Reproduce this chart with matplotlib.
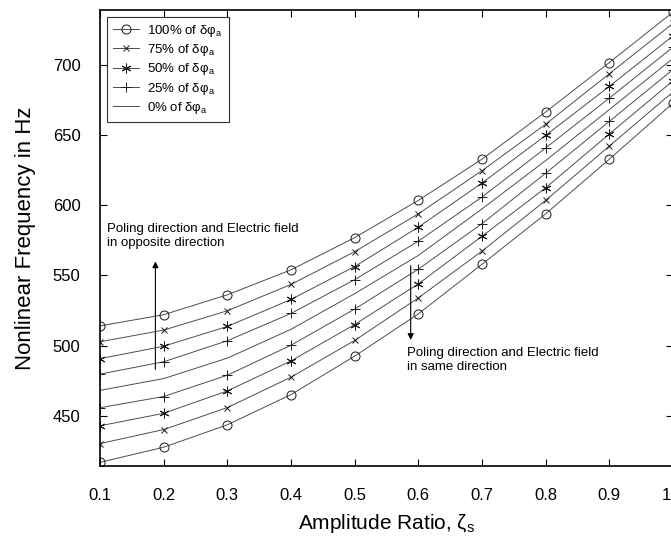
import numpy as np
import matplotlib
matplotlib.use('Agg')
import matplotlib.pyplot as plt

##################################### fonts
plt.rcParams['font.family'] = ['Liberation Sans', 'DejaVu Sans']
plt.rcParams['mathtext.fontset'] = 'custom'
plt.rcParams['mathtext.rm'] = 'Liberation Sans'
plt.rcParams['mathtext.it'] = 'Liberation Sans:italic'
plt.rcParams['mathtext.default'] = 'regular'
#####################################

##################################### data
amp_ratio = [0.1, 0.2, 0.3, 0.4, 0.5, 0.6, 0.7, 0.8, 0.9, 1.0]

# poling direction and electric field in opposite direction
opp_100 = [514.0, 522.0, 536.2, 554.0, 577.0, 603.6, 633.0, 666.7, 702.0, 738.0]
opp_75 = [502.7, 511.0, 524.8, 543.6, 567.0, 594.0, 624.8, 658.0, 694.0, 730.0]
opp_50 = [490.6, 499.5, 513.6, 532.9, 556.4, 584.5, 616.0, 650.0, 685.0, 721.0]
opp_25 = [479.6, 488.4, 503.4, 522.9, 547.0, 574.5, 606.0, 641.0, 676.6, 713.0]
# no electric field
zero_field = [468.0, 476.4, 491.0, 511.6, 537.0, 564.3, 597.5, 632.0, 668.4, 705.0]
# poling direction and electric field in same direction
same_25 = [455.6, 463.6, 478.8, 500.2, 526.0, 554.5, 587.0, 623.0, 660.0, 697.0]
same_50 = [442.7, 451.6, 467.6, 489.0, 515.0, 544.0, 578.0, 612.6, 651.0, 689.0]
same_75 = [430.0, 440.0, 455.7, 477.4, 503.6, 534.0, 567.4, 603.6, 642.4, 681.0]
same_100 = [416.6, 427.4, 443.4, 465.0, 492.4, 522.6, 558.0, 594.0, 633.0, 673.0]

labels = ['100% of δφ$_a$', '75% of δφ$_a$', '50% of δφ$_a$', '25% of δφ$_a$', '0% of δφ$_a$']
xticks = [0.1, 0.2, 0.3, 0.4, 0.5, 0.6, 0.7, 0.8, 0.9, 1.0]
yticks = [450, 500, 550, 600, 650, 700]
#####################################

LINE_COL = '0.3'
MARK_COL = '0.1'

fig = plt.figure(figsize=(6.71, 5.44), dpi=100)
# axes run a little past the right edge, as in the original scan
ax = fig.add_axes([100/671, 78/544, 573/671, 456/544])

styles = [dict(marker='o', markersize=6.5, markerfacecolor='none'),
          dict(marker='x', markersize=5),
          dict(marker=(6, 2, 0), markersize=7),
          dict(marker='+', markersize=7),
          dict(marker='None')]

opp_sets = [opp_100, opp_75, opp_50, opp_25, zero_field]
same_sets = [same_100, same_75, same_50, same_25]

for vals, st, lab in zip(opp_sets, styles, labels):
    ax.plot(amp_ratio, vals, color=LINE_COL, lw=0.7, markeredgecolor=MARK_COL,
            markeredgewidth=0.7, label=lab, **st)
for vals, st in zip(same_sets, styles[:4]):
    ax.plot(amp_ratio, vals, color=LINE_COL, lw=0.7, markeredgecolor=MARK_COL,
            markeredgewidth=0.7, **st)

##################################### annotations
ax.annotate('', xy=(0.187, 562), xytext=(0.187, 481),
            arrowprops=dict(arrowstyle='-|>', color='0.35', lw=0.8,
                            mutation_scale=9, fc='black', ec='black'))
ax.annotate('', xy=(0.588, 502), xytext=(0.588, 559),
            arrowprops=dict(arrowstyle='-|>', color='0.35', lw=0.8,
                            mutation_scale=9, fc='black', ec='black'))
ax.text(0.111, 578.2, 'Poling direction and Electric field\nin opposite direction',
        fontsize=9.5, va='center', ha='left', linespacing=1.2)
ax.text(0.5815, 489.6, 'Poling direction and Electric field\nin same direction',
        fontsize=9.5, va='center', ha='left', linespacing=1.2)
#####################################

ax.set_xlim(0.1, 1.0)
ax.set_ylim(414, 739.5)
ax.set_xticks(xticks)
ax.set_yticks(yticks)
ax.set_xticklabels(['%.1f' % t for t in xticks])
ax.tick_params(direction='in', top=True, right=True, length=5, width=0.8, labelsize=12)
ax.tick_params(axis='x', pad=16)
ax.tick_params(axis='y', pad=14)
for sp in ax.spines.values():
    sp.set_linewidth(1.2)

ax.set_xlabel('Amplitude Ratio, ζ$_s$', fontsize=15, labelpad=6)
ax.set_ylabel('Nonlinear Frequency in Hz', fontsize=16, labelpad=12)

leg = ax.legend(loc='upper left', bbox_to_anchor=(0.012, 0.985), borderaxespad=0,
                fontsize=9.5, fancybox=False, edgecolor='0.2', framealpha=1,
                handlelength=2.0, handletextpad=0.6, labelspacing=0.25,
                borderpad=0.45)
leg.get_frame().set_linewidth(0.8)

fig.savefig('out.png', dpi=100)
